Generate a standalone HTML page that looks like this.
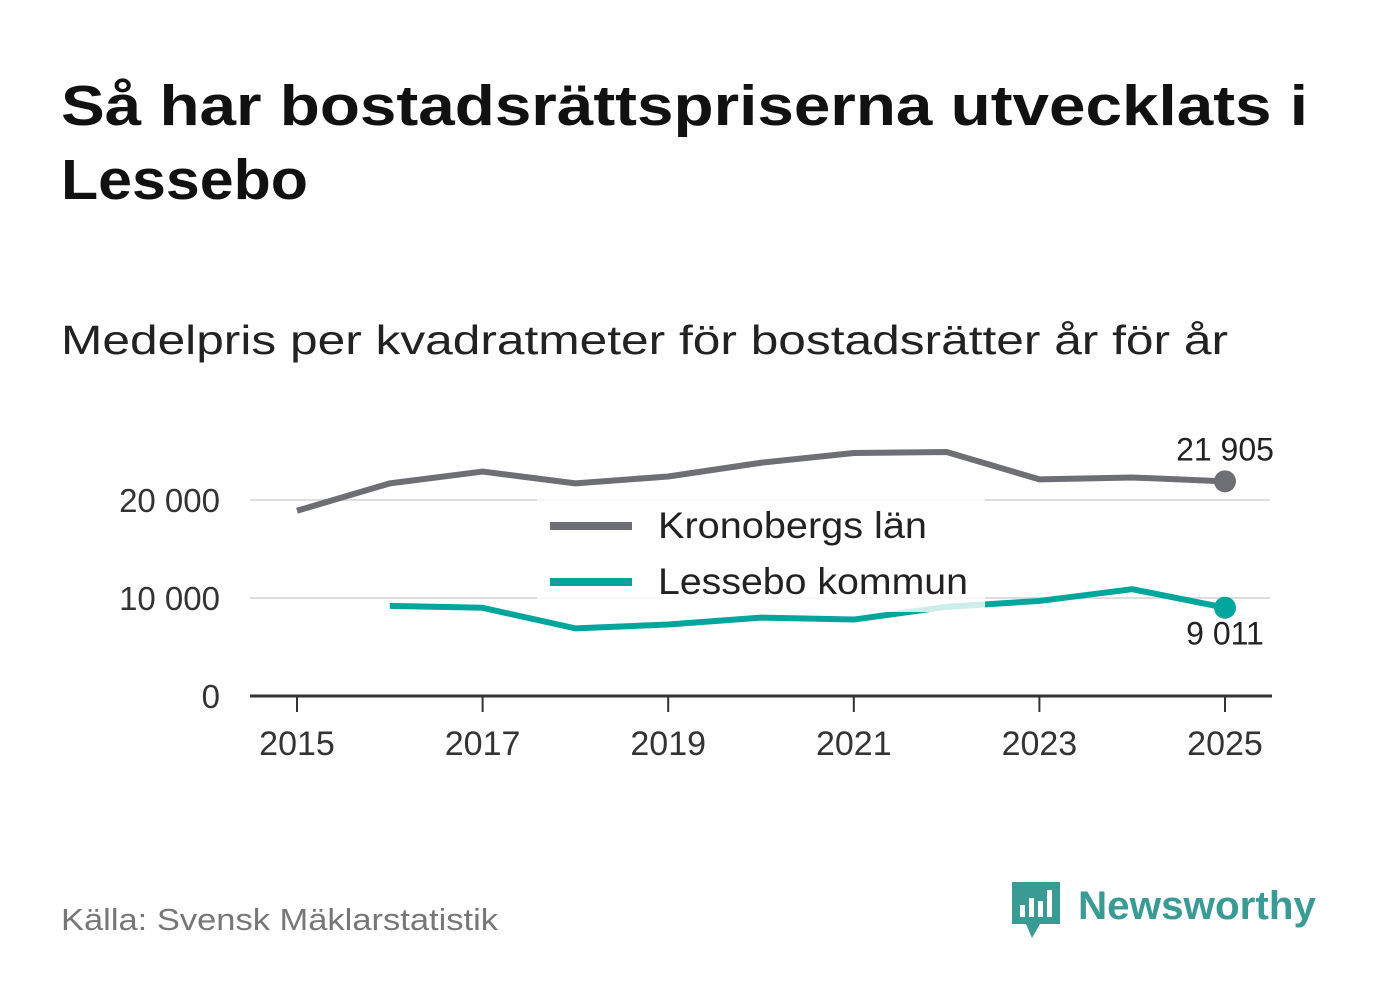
<!DOCTYPE html>
<html><head><meta charset="utf-8"><style>
body{margin:0;background:#fff;width:1382px;height:999px;overflow:hidden;font-family:"Liberation Sans",sans-serif;}
</style></head><body>
<svg width="1382" height="999" xmlns="http://www.w3.org/2000/svg" font-family="Liberation Sans, sans-serif">
<text x="61" y="125" font-size="57" font-weight="bold" fill="#111" textLength="1247" lengthAdjust="spacingAndGlyphs">Så har bostadsrättspriserna utvecklats i</text>
<text x="61" y="199" font-size="57" font-weight="bold" fill="#111" textLength="247" lengthAdjust="spacingAndGlyphs">Lessebo</text>
<text x="61" y="354" font-size="41" fill="#222" textLength="1167" lengthAdjust="spacingAndGlyphs">Medelpris per kvadratmeter för bostadsrätter år för år</text>
<g id="chart"></g>
<text x="61" y="930" font-size="31" fill="#777" textLength="437" lengthAdjust="spacingAndGlyphs">Källa: Svensk Mäklarstatistik</text>
<g>
<path d="M1012 882h48v42h-20l-8 14-6-14h-14z" fill="#3a9b94"/>
<rect x="1020" y="905" width="5" height="12" fill="#fff"/><rect x="1029" y="898" width="5" height="19" fill="#fff"/><rect x="1038" y="901" width="5" height="16" fill="#fff"/><rect x="1047" y="890" width="5" height="27" fill="#fff"/>
<text x="1078" y="919" font-size="40" font-weight="bold" fill="#3a9b94" textLength="238" lengthAdjust="spacingAndGlyphs">Newsworthy</text>
</g>
</svg>
<script>
const years=[2015,2016,2017,2018,2019,2020,2021,2022,2023,2024,2025];
const kronoberg=[18900,21700,22900,21700,22400,23800,24800,24900,22100,22300,21905];
const lessebo=[null,9200,9000,6900,7300,8000,7800,9100,9700,10900,9011];
const yTicks=[0,10000,20000];
const xTicks=[2015,2017,2019,2021,2023,2025];
const ns="http://www.w3.org/2000/svg";
const g=document.getElementById('chart');
const X=y=>297+(y-2015)*92.8, Y=v=>696-v*0.0098;
const fmt=v=>String(Math.round(v)).replace(/\B(?=(\d{3})+(?!\d))/g,' ');
function mk(t,a,p){const e=document.createElementNS(ns,t);for(const k in a)e.setAttribute(k,a[k]);(p||g).appendChild(e);return e;}
yTicks.forEach(v=>{
 if(v>0){const l=mk('line',{x1:250,x2:1270,y1:Y(v),y2:Y(v),stroke:'#ddd','stroke-width':2});
 
 }
 const t=mk('text',{x:220,y:Y(v)+12,'font-size':33,fill:'#333','text-anchor':'end'});t.textContent=fmt(v);
 
 
});
xTicks.forEach(y=>{
 mk('line',{x1:X(y),x2:X(y),y1:696,y2:712,stroke:'#333','stroke-width':2});
 const t=mk('text',{x:X(y),y:755,'font-size':34,fill:'#333','text-anchor':'middle'});t.textContent=y;
 
 
});
const ax=mk('line',{x1:250,x2:1272,y1:696,y2:696,stroke:'#333','stroke-width':3});


function series(vals,col,name){
 const pts=years.map((y,i)=>vals[i]==null?null:X(y)+','+Y(vals[i])).filter(p=>p);
 const p=mk('polyline',{points:pts.join(' '),fill:'none',stroke:col,'stroke-width':6,'stroke-linejoin':'round'});
 
 
 const last=vals[vals.length-1];
 const c=mk('circle',{cx:X(2025),cy:Y(last),r:11,fill:col});
 
 
 return last;
}
const k=series(kronoberg,'#6e6e75','kronoberg-line');
const l=series(lessebo,'#00a69c','lessebo-line');
const lb=mk('rect',{x:537,y:498,width:448,height:114,fill:'#fff','fill-opacity':0.8});


const t1=mk('text',{x:1225,y:Y(k)-21,'font-size':32,fill:'#222','text-anchor':'middle'});t1.textContent=fmt(k);


const t2=mk('text',{x:1225,y:Y(l)+37,'font-size':32,fill:'#222','text-anchor':'middle'});t2.textContent=fmt(l);


[['Kronobergs län','#6e6e75',526,269],['Lessebo kommun','#00a69c',582,310]].forEach(([n,c,y,w])=>{
 const gg=mk('g',{});
 
 
 mk('line',{x1:550,x2:632,y1:y,y2:y,stroke:c,'stroke-width':8},gg);
 const t=mk('text',{x:658,y:y+12,'font-size':37,fill:'#222',textLength:w,lengthAdjust:'spacingAndGlyphs'},gg);t.textContent=n;
});
</script>
</body></html>
